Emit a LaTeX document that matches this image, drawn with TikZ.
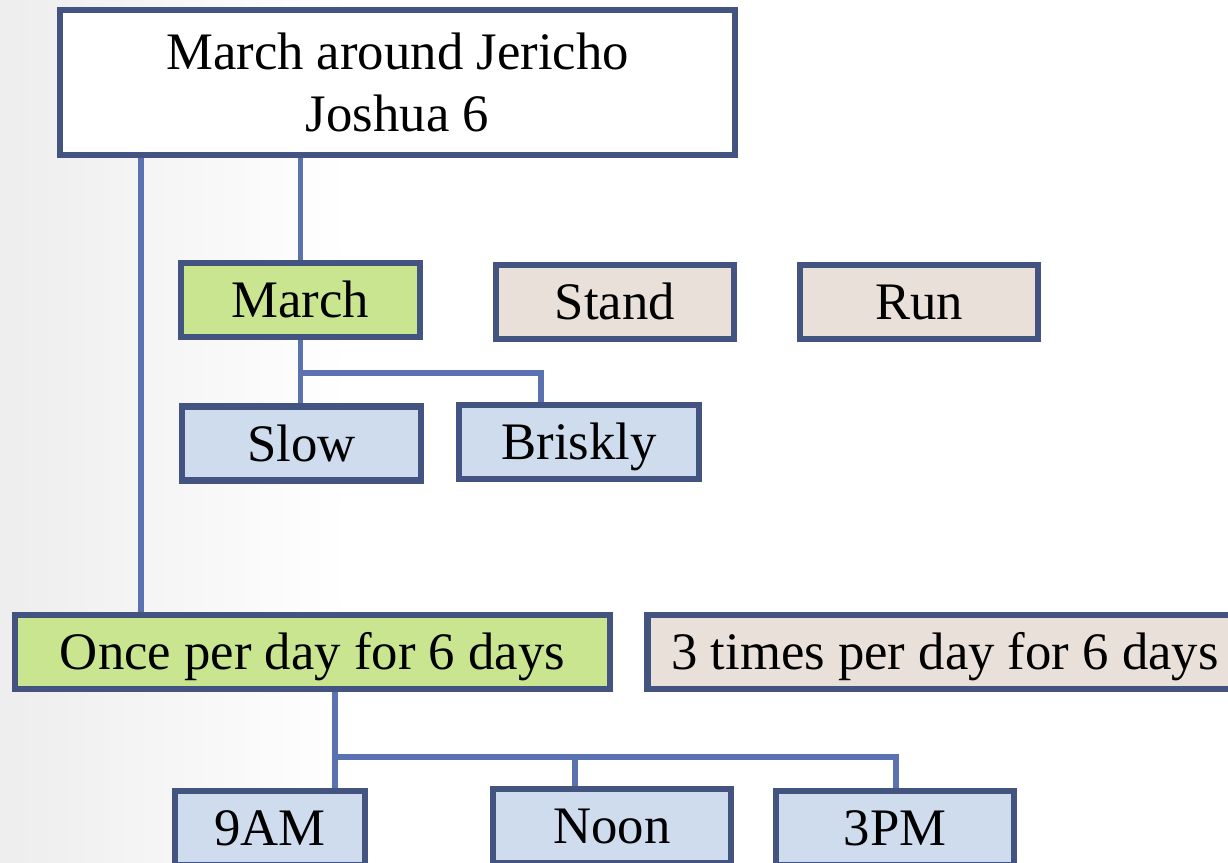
\documentclass[tikz,border=0pt]{standalone}
\usepackage{fontspec}
\setmainfont{Liberation Serif}
\usepackage{tikz}
\definecolor{boxline}{RGB}{68,84,128}
\definecolor{linkline}{RGB}{91,114,176}
\definecolor{chosen}{RGB}{201,229,144}
\definecolor{other}{RGB}{233,225,217}
\definecolor{detail}{RGB}{207,220,238}
\tikzset{
  item/.style={draw=boxline, line width=3.6pt, inner sep=0pt, minimum height=1.48cm,
    font=\fontsize{30}{35}\selectfont, text height=20pt, text depth=0pt},
  link/.style={draw=linkline, line width=3pt}
}
\begin{document}
\begin{tikzpicture}
\useasboundingbox (0,0) rectangle (24.56,-17.26);
\clip (0,0) rectangle (24.56,-17.26);
\shade[left color=black!7, right color=white] (0,0) rectangle (7,-17.26);
\node[item, fill=white, minimum width=13.5cm, minimum height=2.9cm, text height={}, text depth={},
  align=center] (title) at (7.95,-1.65) {March around Jericho\\Joshua 6};
\node[item, fill=chosen, minimum width=4.78cm] (march) at (6.01,-6.0) {March};
\node[item, fill=other, minimum width=4.76cm] (stand) at (12.3,-6.04) {Stand};
\node[item, fill=other, minimum width=4.76cm] (run) at (18.38,-6.04) {Run};
\node[item, fill=detail, minimum width=4.78cm] (slow) at (6.03,-8.87) {Slow};
\node[item, fill=detail, minimum width=4.8cm] (briskly) at (11.58,-8.84) {Briskly};
\node[item, fill=chosen, minimum width=11.9cm] (once) at (6.25,-13.04) {Once per day for 6 days};
\node[item, fill=other, minimum width=11.9cm] (thrice) at (18.9,-13.04) {3 times per day for 6 days};
\node[item, fill=detail, minimum width=3.8cm] (nineam) at (5.4,-16.56) {9AM};
\node[item, fill=detail, minimum width=4.76cm] (noon) at (12.24,-16.52) {Noon};
\node[item, fill=detail, minimum width=4.76cm] (threepm) at (17.9,-16.56) {3PM};
% links
\coordinate (left) at (2.82,0);
\coordinate (fork1) at (10.82,-7.46);
\coordinate (fork2) at (17.92,-15.14);
\coordinate (mid2) at (11.5,-15.14);
\draw[link] (title.south -| left) -- (once.north -| left);
\draw[link] (title.south -| march.north) -- (march.north);
\draw[link] (march.south) -- (march.south |- slow.north);
\draw[link] (march.south |- fork1) -- (fork1) -- (fork1 |- briskly.north);
\draw[link] (once.south -| 6.7,0) -- (6.7,0 |- nineam.north);
\draw[link] (6.7,0 |- fork2) -- (fork2) -- (fork2 |- threepm.north);
\draw[link] (mid2) -- (mid2 |- noon.north);
\end{tikzpicture}
\end{document}
